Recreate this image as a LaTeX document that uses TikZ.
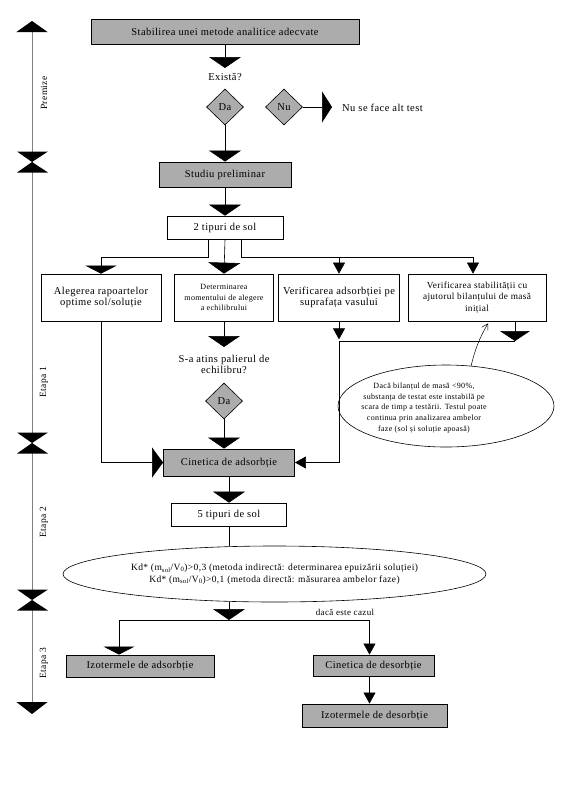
\documentclass[tikz,border=0pt]{standalone}
\usepackage{fontspec}
\setmainfont{Liberation Serif}[LetterSpace=4]
\usetikzlibrary{arrows.meta,shapes.geometric}
\tikzset{
  base/.style={font=\fontsize{10.5}{11.7}\selectfont, inner sep=0pt, align=center},
  graybox/.style={base, draw=black, fill=gray!65, line width=0.9pt},
  whitebox/.style={base, draw=black, fill=white, line width=0.7pt},
  dia/.style={base, draw=black, fill=gray!65, diamond, minimum width=37pt, minimum height=36pt, line width=0.6pt},
  conn/.style={line width=0.6pt},
  bigarrow/.style={conn, -{Triangle[width=32pt,length=11pt]}},
  midarrow/.style={conn, -{Triangle[width=31pt,length=8pt]}},
  narrowarrow/.style={conn, -{Triangle[width=12pt,length=11pt]}},
  sidearrow/.style={conn, -{Triangle[width=30pt,length=11pt]}},
  axislabel/.style={base, font=\fontsize{9.5}{11}\selectfont, rotate=90},
}
\begin{document}
\begin{tikzpicture}[x=1pt,y=-1pt]
\useasboundingbox (0,0) rectangle (571,807);

% ---- left axis ----
\coordinate (axt) at (32,21);
\coordinate (axb) at (32,714);
\draw[line width=0.8pt, gray, {Triangle[width=31pt,length=11pt,color=black]}-{Triangle[width=31pt,length=12pt,color=black]}] (axt) -- (axb);
\foreach \c in {162,443,600}{
  \fill (17,\c-10.5) -- (48,\c-10.5) -- (32,\c) -- cycle;
  \fill (17,\c+10.5) -- (48,\c+10.5) -- (32,\c) -- cycle;
}
\node[axislabel] (lp) at (44,93) {Premize};
\node[axislabel] (l1) at (44,382) {Etapa 1};
\node[axislabel] (l2) at (44,522) {Etapa 2};
\node[axislabel] (l3) at (44,663) {Etapa 3};

% ---- premize ----
\node[graybox, minimum width=268, minimum height=25] (top) at (225,31.5) {Stabilirea unei metode analitice adecvate};
\coordinate (t1) at (225,68);
\node[base] (exista) at (225,77) {Există?};
\node[dia] (da1) at (225,107) {Da};
\node[dia] (nu) at (284,107) {Nu};
\coordinate (nuend) at (332,107);
\node[base, anchor=west] (nutext) at (342,108) {Nu se face alt test};
\draw[bigarrow] (top.south) -- (t1);
\draw[conn, -{Triangle[width=31pt,length=10pt]}] (nu.east) -- (nuend);

% ---- etapa 1 ----
\node[graybox, minimum width=132, minimum height=25] (studiu) at (225,174.5) {Studiu preliminar};
\draw[bigarrow] (da1.south) -- (studiu.north);
\node[whitebox, minimum width=116, minimum height=23] (doi) at (225,227.5) {2 tipuri de sol};
\draw[bigarrow] (studiu.south) -- (doi.north);

\node[whitebox, minimum width=120, minimum height=47] (b1) at (101,297.5) {Alegerea rapoartelor\\optime sol/soluție};
\node[whitebox, minimum width=99, minimum height=47, font=\fontsize{8}{10.5}\selectfont] (b2) at (224,297.5) {Determinarea\\momentului de alegere\\a echilibrului};
\node[whitebox, minimum width=121, minimum height=47] (b3) at (339,297.5) {Verificarea adsorbției pe\\suprafața vasului};
\node[whitebox, minimum width=138, minimum height=47, font=\fontsize{9.3}{11.5}\selectfont] (b4) at (477,297.5) {Verificarea stabilității cu\\ajutorul bilanțului de masă\\inițial};

\coordinate (j1) at (101,257);
\coordinate (j4) at (473,257);
\draw[midarrow] ([xshift=-17pt]doi.south) |- (j1) -- (b1.north);
\draw[bigarrow] (doi.south) -- (b2.north);
\draw[conn] ([xshift=16pt]doi.south) |- (j4);
\draw[narrowarrow] (j4) -- (j4 |- b4.north);
\draw[narrowarrow] (b3.north |- j4) -- (b3.north);

\coordinate (c2) at (224,347);
\draw[bigarrow] (b2.south) -- (c2);
\node[base] (q2) at (224,364.5) {S-a atins palierul de\\echilibru?};
\node[dia] (da2) at (224,401) {Da};

\node[graybox, minimum width=131, minimum height=27] (cin) at (229,462.5) {Cinetica de adsorbție};
\draw[bigarrow] (da2.south) -- (da2.south |- cin.north);
\draw[sidearrow] (b1.south) |- (cin.west);

\coordinate (m1) at (339,341);
\coordinate (m2) at (515,341);
\draw[narrowarrow] (b3.south) -- ++(0,18);
\draw[conn, -{Triangle[width=30pt,length=10pt]}] (m2 |- b4.south) -- (m2);
\draw[narrowarrow] (m2) -- (m1) |- (cin.east);

\node[draw=black, line width=0.6pt, ellipse, minimum width=216, minimum height=82, inner sep=0pt] (ann) at (446,406) {};
\node[base, font=\fontsize{8}{10.8}\selectfont] (anntext) at (424,408) {Dacă bilanțul de masă <90\%,\\substanța de testat este instabilă pe\\scara de timp a testării. Testul poate\\continua prin analizarea ambelor\\faze (sol și soluție apoasă)};
\draw[line width=0.5pt, -{Straight Barb[length=6pt,width=7pt]}] (ann.58) to[bend left=8] ([xshift=11pt,yshift=-2pt]b4.south);

% ---- etapa 2 ----
\node[whitebox, minimum width=115, minimum height=23] (t5) at (229,514.5) {5 tipuri de sol};
\draw[bigarrow] (cin.south) -- (t5.north);
\node[base, font=\fontsize{9.5}{11.5}\selectfont, draw=black, line width=0.6pt, ellipse, minimum width=423, minimum height=56] (ell) at (274.5,574) {Kd* (m\textsubscript{sol}/V\textsubscript{0})>0,3 (metoda indirectă: determinarea epuizării soluției)\\Kd* (m\textsubscript{sol}/V\textsubscript{0})>0,1 (metoda directă: măsurarea ambelor faze)};
\draw[conn] (t5.south) -- (t5.south |- ell.north);

% ---- etapa 3 ----
\coordinate (jb) at (229,620);
\draw[bigarrow] (t5.south |- ell.south) -- (jb);
\node[base, font=\fontsize{9}{10}\selectfont] (cazul) at (345,612) {dacă este cazul};
\node[graybox, minimum width=148, minimum height=22] (iza) at (140,666) {Izotermele de adsorbție};
\node[graybox, minimum width=121, minimum height=21] (cds) at (373.5,665.5) {Cinetica de desorbție};
\node[graybox, minimum width=145, minimum height=23] (ids) at (374.5,715.5) {Izotermele de desorbție};
\draw[midarrow] (jb) -| ([xshift=-21pt]iza.north);
\draw[narrowarrow] (jb) -| ([xshift=-4pt]cds.north);
\draw[narrowarrow] ([xshift=-4pt]cds.south) -- ([xshift=-4pt]cds.south |- ids.north);
\end{tikzpicture}
\end{document}
